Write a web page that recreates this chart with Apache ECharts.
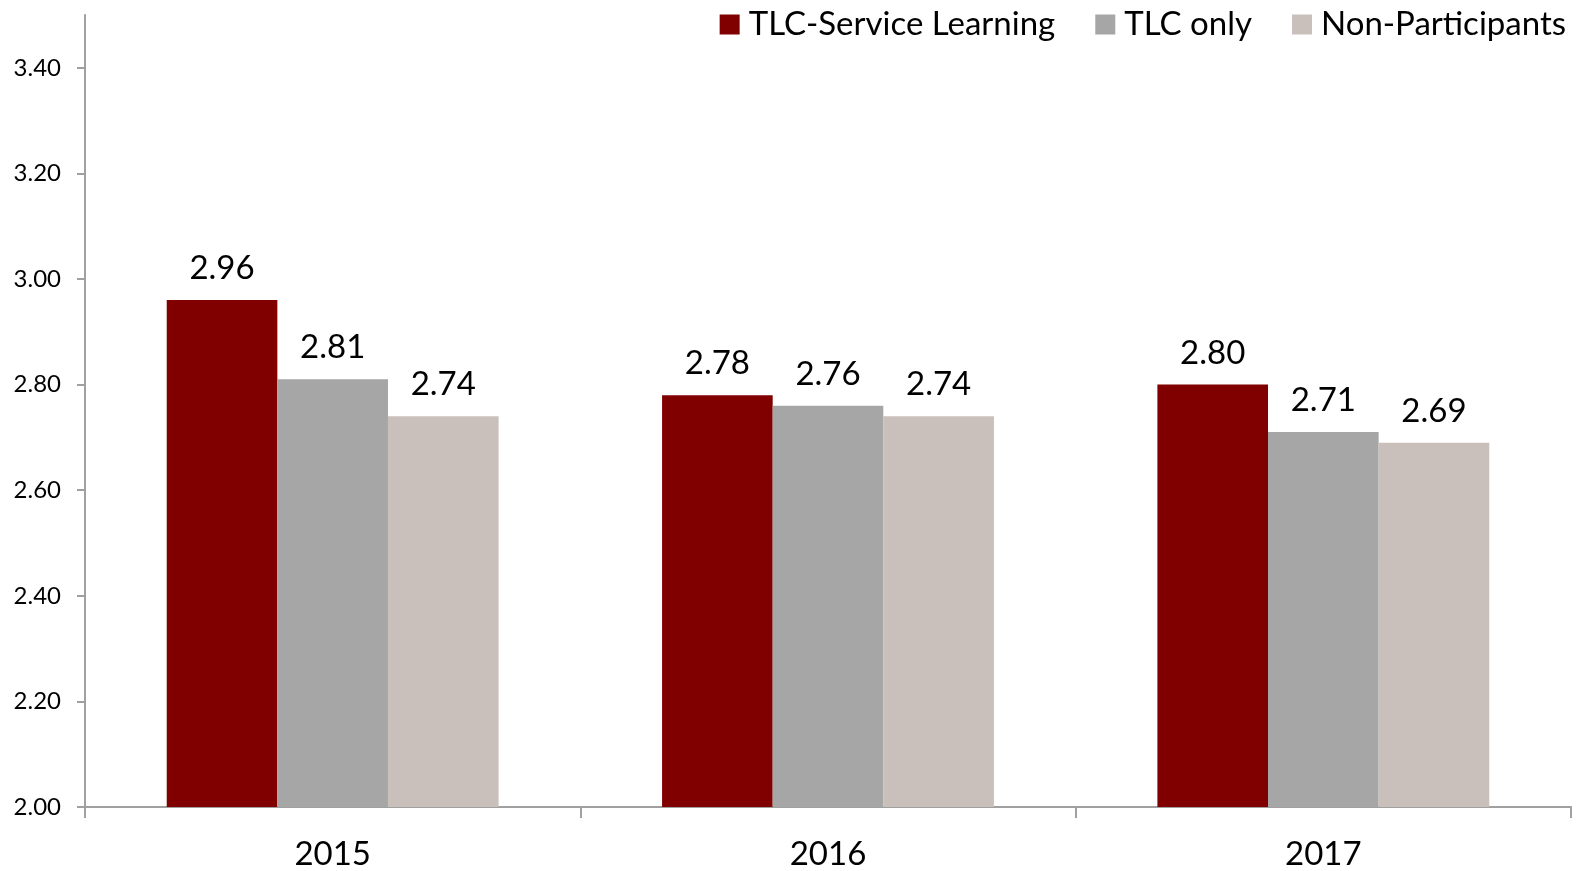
<!DOCTYPE html>
<html>
<head>
<meta charset="utf-8">
<script src="https://cdn.jsdelivr.net/npm/echarts@6/dist/echarts.min.js"></script>
<style>
  html, body { margin: 0; padding: 0; background: #fff; }
  #chart { width: 1579px; height: 871px; }
</style>
</head>
<body>
<div id="chart"></div>
<script>
// chart data
const years = ['2015', '2016', '2017'];
const serviceLearning = [2.96, 2.78, 2.80];
const tlcOnly = [2.81, 2.76, 2.71];
const nonParticipants = [2.74, 2.74, 2.69];
const yTicks = [2.0, 2.2, 2.4, 2.6, 2.8, 3.0, 3.2, 3.4];

const font = 'Lato, "Liberation Sans", sans-serif';
const axisGray = '#a0a0a0';

function barSeries(name, values, color) {
    return {
        name: name,
        type: 'bar',
        data: values,
        barGap: '0%',
        barCategoryGap: '33%',
        itemStyle: { color: color },
        label: {
            show: true,
            position: 'top',
            distance: 15,
            color: '#000',
            fontFamily: font,
            fontSize: 33,
            formatter: p => p.value.toFixed(2)
        }
    };
}

const chart = echarts.init(document.getElementById('chart'));
chart.setOption({
    animation: false,
    textStyle: { fontFamily: font },
    legend: {
        top: 3,
        right: 8,
        itemWidth: 20,
        itemHeight: 20,
        itemGap: 40,
        icon: 'rect',
        textStyle: { fontSize: 33, color: '#000', fontFamily: font, padding: [0, 0, 0, 4] }
    },
    grid: { left: 85, right: 8, top: 15, bottom: 62 },
    xAxis: {
        type: 'category',
        data: years,
        axisLine: { lineStyle: { color: axisGray, width: 2 } },
        axisTick: { show: true, length: 11, lineStyle: { color: axisGray, width: 2 } },
        axisLabel: { fontSize: 33, color: '#000', margin: 31, fontFamily: font }
    },
    yAxis: {
        type: 'value',
        min: 2.0,
        max: 3.5,
        interval: 0.1,
        splitLine: { show: false },
        axisLine: { show: true, lineStyle: { color: axisGray, width: 2 } },
        axisTick: { show: true, length: 8, customValues: yTicks, lineStyle: { color: axisGray, width: 2 } },
        axisLabel: {
            fontSize: 24,
            color: '#000',
            margin: 24,
            fontFamily: font,
            customValues: yTicks,
            formatter: v => v.toFixed(2)
        }
    },
    series: [
        barSeries('TLC-Service Learning', serviceLearning, '#800000'),
        barSeries('TLC only', tlcOnly, '#a6a6a6'),
        barSeries('Non-Participants', nonParticipants, '#c9c0bc')
    ]
});
</script>
</body>
</html>
